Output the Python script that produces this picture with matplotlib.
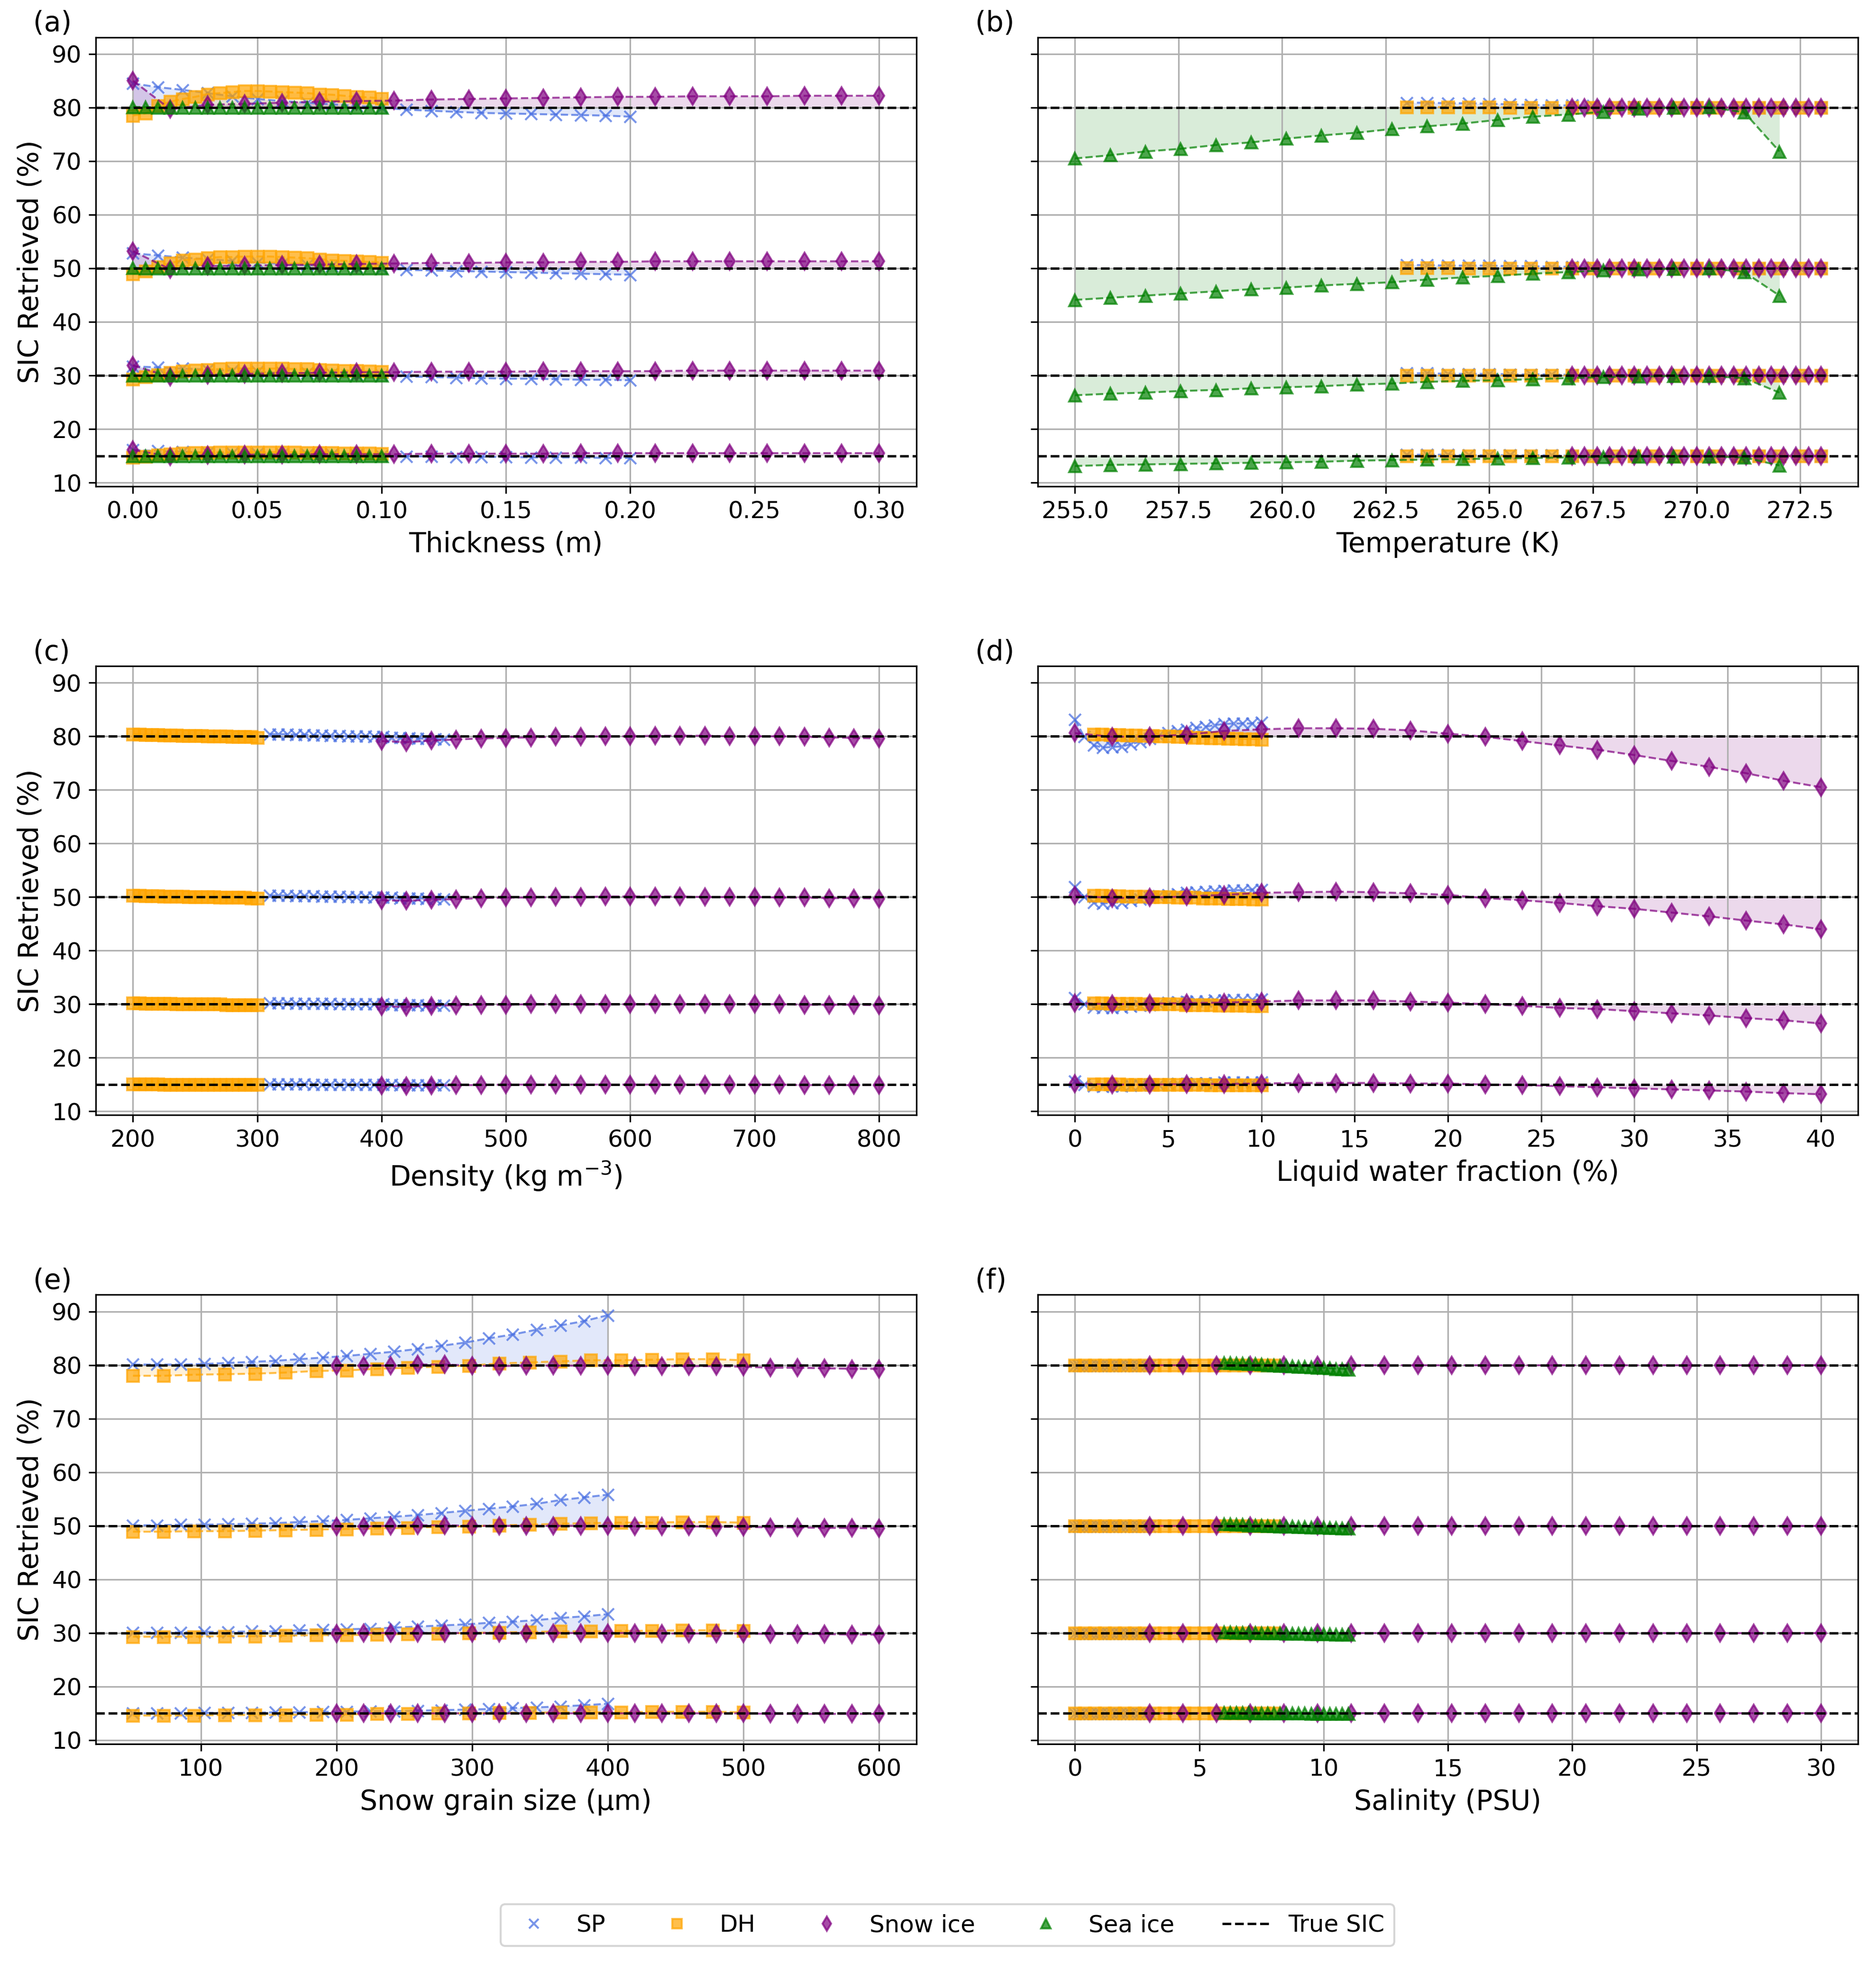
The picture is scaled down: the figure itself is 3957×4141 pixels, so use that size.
import matplotlib
matplotlib.use("Agg")
import matplotlib.pyplot as plt
from matplotlib.lines import Line2D

# true SIC levels, in the order the rows of every series below are stored
TRUE_SIC = [80, 50, 30, 15]

SERIES = ["SP", "DH", "Snow ice", "Sea ice"]
COLORS = {"SP": "royalblue", "DH": "orange", "Snow ice": "purple", "Sea ice": "green"}
MARKERS = {"SP": "x", "DH": "s", "Snow ice": "d", "Sea ice": "^"}

# ---------------- (a) thickness ----------------
A_X_SP = [0.00, 0.01, 0.02, 0.03, 0.04, 0.05, 0.06, 0.07, 0.08, 0.09, 0.10,
          0.11, 0.12, 0.13, 0.14, 0.15, 0.16, 0.17, 0.18, 0.19, 0.20]
A_X_DH = [0.000, 0.005, 0.010, 0.015, 0.020, 0.025, 0.030, 0.035, 0.040, 0.045, 0.050,
          0.055, 0.060, 0.065, 0.070, 0.075, 0.080, 0.085, 0.090, 0.095, 0.100]
A_X_SNOW = [0.000, 0.015, 0.030, 0.045, 0.060, 0.075, 0.090, 0.105, 0.120, 0.135, 0.150,
            0.165, 0.180, 0.195, 0.210, 0.225, 0.240, 0.255, 0.270, 0.285, 0.300]
A_X_SEA = [0.000, 0.005, 0.010, 0.015, 0.020, 0.025, 0.030, 0.035, 0.040, 0.045, 0.050,
           0.055, 0.060, 0.065, 0.070, 0.075, 0.080, 0.085, 0.090, 0.095, 0.100]
A_SP = [
    [84.5, 83.8, 83.3, 82.7, 82.1, 81.6, 81.2, 80.9, 80.6, 80.3, 80.0, 79.6, 79.4, 79.2, 79.0, 78.9, 78.8, 78.7, 78.6, 78.5, 78.3],
    [52.8, 52.4, 52.0, 51.7, 51.4, 51.1, 50.8, 50.6, 50.4, 50.2, 50.0, 49.7, 49.6, 49.5, 49.4, 49.3, 49.2, 49.1, 49.0, 48.9, 48.8],
    [31.7, 31.5, 31.3, 31.1, 30.9, 30.7, 30.5, 30.4, 30.3, 30.1, 30.0, 29.8, 29.7, 29.6, 29.5, 29.4, 29.4, 29.3, 29.2, 29.2, 29.1],
    [16.1, 15.9, 15.8, 15.6, 15.5, 15.4, 15.3, 15.2, 15.2, 15.1, 15.0, 14.9, 14.9, 14.8, 14.8, 14.8, 14.7, 14.7, 14.7, 14.6, 14.6],
]
A_DH = [
    [78.5, 78.9, 80.3, 81.1, 81.6, 82.0, 82.5, 82.7, 82.9, 83.1, 83.1, 83.0, 82.9, 82.8, 82.7, 82.5, 82.4, 82.2, 82.0, 81.9, 81.7],
    [48.9, 49.5, 50.3, 51.0, 51.5, 51.7, 51.9, 52.1, 52.1, 52.2, 52.2, 52.2, 52.1, 52.0, 51.9, 51.7, 51.5, 51.4, 51.3, 51.2, 51.1],
    [29.3, 29.7, 30.1, 30.5, 30.8, 31.0, 31.1, 31.2, 31.3, 31.3, 31.3, 31.3, 31.3, 31.2, 31.2, 31.1, 31.0, 30.9, 30.9, 30.8, 30.7],
    [14.7, 14.9, 15.1, 15.3, 15.5, 15.6, 15.6, 15.7, 15.7, 15.7, 15.7, 15.7, 15.7, 15.7, 15.6, 15.6, 15.6, 15.5, 15.5, 15.5, 15.4],
]
A_SNOW = [
    [85.0, 79.7, 80.5, 80.7, 80.9, 81.1, 81.2, 81.3, 81.5, 81.6, 81.7, 81.8, 81.9, 82.0, 82.0, 82.1, 82.1, 82.1, 82.2, 82.2, 82.2],
    [53.2, 49.8, 50.4, 50.5, 50.6, 50.7, 50.8, 50.9, 51.0, 51.0, 51.1, 51.1, 51.2, 51.2, 51.3, 51.3, 51.3, 51.3, 51.3, 51.3, 51.3],
    [31.9, 29.7, 30.1, 30.3, 30.4, 30.5, 30.6, 30.6, 30.7, 30.7, 30.7, 30.8, 30.8, 30.8, 30.8, 30.9, 30.9, 30.9, 30.9, 30.9, 30.9],
    [16.1, 14.9, 15.1, 15.2, 15.2, 15.3, 15.3, 15.3, 15.4, 15.4, 15.4, 15.4, 15.5, 15.5, 15.5, 15.5, 15.5, 15.5, 15.5, 15.5, 15.5],
]
A_SEA = [
    [80.1, 80.1, 80.0, 80.0, 80.0, 80.0, 80.0, 80.0, 80.0, 80.0, 80.0, 80.0, 80.0, 80.0, 80.0, 80.0, 80.0, 80.0, 80.0, 80.0, 80.0],
    [50.1, 50.0, 50.0, 50.0, 50.0, 50.0, 50.0, 50.0, 50.0, 50.0, 50.0, 50.0, 50.0, 50.0, 50.0, 50.0, 50.0, 50.0, 50.0, 50.0, 50.0],
    [30.0, 30.0, 30.0, 30.0, 30.0, 30.0, 30.0, 30.0, 30.0, 30.0, 30.0, 30.0, 30.0, 30.0, 30.0, 30.0, 30.0, 30.0, 30.0, 30.0, 30.0],
    [15.0, 15.0, 15.0, 15.0, 15.0, 15.0, 15.0, 15.0, 15.0, 15.0, 15.0, 15.0, 15.0, 15.0, 15.0, 15.0, 15.0, 15.0, 15.0, 15.0, 15.0],
]

# ---------------- (b) temperature ----------------
B_X_SP = [263.0, 263.5, 264.0, 264.5, 265.0, 265.5, 266.0, 266.5, 267.0, 267.5, 268.0,
          268.5, 269.0, 269.5, 270.0, 270.5, 271.0, 271.5, 272.0, 272.5, 273.0]
B_X_DH = [263.0, 263.5, 264.0, 264.5, 265.0, 265.5, 266.0, 266.5, 267.0, 267.5, 268.0,
          268.5, 269.0, 269.5, 270.0, 270.5, 271.0, 271.5, 272.0, 272.5, 273.0]
B_X_SNOW = [267.0, 267.3, 267.6, 267.9, 268.2, 268.5, 268.8, 269.1, 269.4, 269.7, 270.0,
            270.3, 270.6, 270.9, 271.2, 271.5, 271.8, 272.1, 272.4, 272.7, 273.0]
B_X_SEA = [255.0, 255.85, 256.7, 257.55, 258.4, 259.25, 260.1, 260.95, 261.8, 262.65, 263.5,
           264.35, 265.2, 266.05, 266.9, 267.75, 268.6, 269.45, 270.3, 271.15, 272.0]
B_SP = [
    [80.9, 80.9, 80.8, 80.8, 80.7, 80.6, 80.5, 80.4, 80.4, 80.3, 80.2, 80.2, 80.1, 80.1, 80.1, 80.0, 80.0, 80.0, 80.0, 80.0, 80.0],
    [50.6, 50.6, 50.5, 50.5, 50.5, 50.4, 50.4, 50.3, 50.3, 50.2, 50.2, 50.1, 50.1, 50.1, 50.0, 50.0, 50.0, 50.0, 50.0, 50.0, 50.0],
    [30.4, 30.4, 30.3, 30.3, 30.3, 30.2, 30.2, 30.2, 30.1, 30.1, 30.1, 30.1, 30.0, 30.0, 30.0, 30.0, 30.0, 30.0, 30.0, 30.0, 30.0],
    [15.2, 15.2, 15.2, 15.1, 15.1, 15.1, 15.1, 15.1, 15.0, 15.0, 15.0, 15.0, 15.0, 15.0, 15.0, 15.0, 15.0, 15.0, 15.0, 15.0, 15.0],
]
B_DH = [
    [80.1, 80.1, 80.1, 80.1, 80.1, 80.0, 80.0, 80.0, 80.0, 80.0, 80.0, 80.0, 80.0, 80.0, 80.0, 80.0, 80.0, 80.0, 80.0, 80.0, 80.0],
    [50.1, 50.1, 50.1, 50.0, 50.0, 50.0, 50.0, 50.0, 50.0, 50.0, 50.0, 50.0, 50.0, 50.0, 50.0, 50.0, 50.0, 50.0, 50.0, 50.0, 50.0],
    [30.0, 30.0, 30.0, 30.0, 30.0, 30.0, 30.0, 30.0, 30.0, 30.0, 30.0, 30.0, 30.0, 30.0, 30.0, 30.0, 30.0, 30.0, 30.0, 30.0, 30.0],
    [15.0, 15.0, 15.0, 15.0, 15.0, 15.0, 15.0, 15.0, 15.0, 15.0, 15.0, 15.0, 15.0, 15.0, 15.0, 15.0, 15.0, 15.0, 15.0, 15.0, 15.0],
]
B_SNOW = [
    [80.0, 80.0, 80.0, 80.0, 80.0, 80.0, 80.0, 80.0, 80.0, 80.0, 80.0, 80.0, 80.0, 80.0, 80.0, 80.0, 80.0, 80.0, 80.0, 80.0, 80.0],
    [50.0, 50.0, 50.0, 50.0, 50.0, 50.0, 50.0, 50.0, 50.0, 50.0, 50.0, 50.0, 50.0, 50.0, 50.0, 50.0, 50.0, 50.0, 50.0, 50.0, 50.0],
    [30.0, 30.0, 30.0, 30.0, 30.0, 30.0, 30.0, 30.0, 30.0, 30.0, 30.0, 30.0, 30.0, 30.0, 30.0, 30.0, 30.0, 30.0, 30.0, 30.0, 30.0],
    [15.0, 15.0, 15.0, 15.0, 15.0, 15.0, 15.0, 15.0, 15.0, 15.0, 15.0, 15.0, 15.0, 15.0, 15.0, 15.0, 15.0, 15.0, 15.0, 15.0, 15.0],
]
B_SEA = [
    [70.5, 71.1, 71.8, 72.3, 73.0, 73.5, 74.2, 74.8, 75.3, 76.0, 76.5, 77.0, 77.7, 78.3, 78.7, 79.2, 79.8, 80.0, 80.1, 79.1, 71.8],
    [44.1, 44.5, 44.9, 45.3, 45.7, 46.1, 46.4, 46.8, 47.1, 47.4, 47.9, 48.3, 48.6, 49.0, 49.3, 49.6, 49.8, 49.9, 50.0, 49.3, 44.9],
    [26.3, 26.6, 26.8, 27.1, 27.3, 27.6, 27.8, 28.0, 28.3, 28.5, 28.8, 29.0, 29.1, 29.3, 29.5, 29.7, 29.8, 29.9, 29.9, 29.5, 26.8],
    [13.1, 13.3, 13.4, 13.5, 13.6, 13.7, 13.8, 13.9, 14.1, 14.2, 14.3, 14.4, 14.5, 14.6, 14.7, 14.8, 14.9, 14.9, 14.9, 14.7, 13.2],
]

# ---------------- (c) density ----------------
C_X_SP = [310, 317, 324, 331, 338, 345, 352, 359, 366, 373, 380,
          387, 394, 401, 408, 415, 422, 429, 436, 443, 450]
C_X_DH = [200, 205, 210, 215, 220, 225, 230, 235, 240, 245, 250,
          255, 260, 265, 270, 275, 280, 285, 290, 295, 300]
C_X_SNOW = [400, 420, 440, 460, 480, 500, 520, 540, 560, 580, 600,
            620, 640, 660, 680, 700, 720, 740, 760, 780, 800]
C_SP = [
    [80.4, 80.4, 80.4, 80.3, 80.3, 80.2, 80.2, 80.1, 80.1, 80.0, 80.0, 80.0, 79.9, 79.9, 79.8, 79.8, 79.7, 79.6, 79.6, 79.5, 79.4],
    [50.3, 50.3, 50.3, 50.2, 50.2, 50.2, 50.1, 50.1, 50.1, 50.0, 50.0, 50.0, 49.9, 49.9, 49.9, 49.8, 49.8, 49.8, 49.7, 49.7, 49.6],
    [30.2, 30.2, 30.2, 30.1, 30.1, 30.1, 30.1, 30.1, 30.0, 30.0, 30.0, 30.0, 30.0, 30.0, 29.9, 29.9, 29.9, 29.9, 29.8, 29.8, 29.8],
    [15.1, 15.1, 15.1, 15.1, 15.1, 15.0, 15.0, 15.0, 15.0, 15.0, 15.0, 15.0, 15.0, 15.0, 15.0, 14.9, 14.9, 14.9, 14.9, 14.9, 14.9],
]
C_DH = [
    [80.4, 80.4, 80.3, 80.3, 80.3, 80.2, 80.2, 80.2, 80.1, 80.1, 80.1, 80.1, 80.0, 80.0, 80.0, 80.0, 79.9, 79.9, 79.9, 79.9, 79.8],
    [50.3, 50.3, 50.2, 50.2, 50.2, 50.1, 50.1, 50.1, 50.1, 50.0, 50.0, 50.0, 50.0, 50.0, 49.9, 49.9, 49.9, 49.9, 49.9, 49.8, 49.8],
    [30.2, 30.2, 30.1, 30.1, 30.1, 30.1, 30.1, 30.0, 30.0, 30.0, 30.0, 30.0, 30.0, 30.0, 30.0, 29.9, 29.9, 29.9, 29.9, 29.9, 29.9],
    [15.1, 15.1, 15.1, 15.1, 15.1, 15.0, 15.0, 15.0, 15.0, 15.0, 15.0, 15.0, 15.0, 15.0, 15.0, 15.0, 15.0, 15.0, 15.0, 15.0, 15.0],
]
C_SNOW = [
    [79.1, 78.9, 79.2, 79.4, 79.6, 79.7, 79.8, 79.9, 79.9, 80.0, 80.0, 80.1, 80.1, 80.1, 80.0, 80.0, 80.0, 79.9, 79.8, 79.7, 79.6],
    [49.4, 49.3, 49.5, 49.6, 49.8, 49.9, 49.9, 50.0, 50.0, 50.1, 50.1, 50.1, 50.1, 50.0, 50.0, 50.0, 49.9, 49.9, 49.8, 49.8, 49.7],
    [29.6, 29.5, 29.7, 29.8, 29.9, 29.9, 30.0, 30.0, 30.0, 30.0, 30.0, 30.0, 30.0, 30.0, 30.0, 30.0, 30.0, 29.9, 29.9, 29.9, 29.8],
    [14.8, 14.7, 14.8, 14.9, 14.9, 15.0, 15.0, 15.0, 15.0, 15.0, 15.0, 15.0, 15.0, 15.0, 15.0, 15.0, 15.0, 14.9, 14.9, 14.9, 14.9],
]

# ---------------- (d) liquid water fraction ----------------
D_X_SP = [0.0, 0.5, 1.0, 1.5, 2.0, 2.5, 3.0, 3.5, 4.0, 4.5, 5.0,
          5.5, 6.0, 6.5, 7.0, 7.5, 8.0, 8.5, 9.0, 9.5, 10.0]
D_X_DH = [1.00, 1.45, 1.90, 2.35, 2.80, 3.25, 3.70, 4.15, 4.60, 5.05, 5.50,
          5.95, 6.40, 6.85, 7.30, 7.75, 8.20, 8.65, 9.10, 9.55, 10.00]
D_X_SNOW = [0, 2, 4, 6, 8, 10, 12, 14, 16, 18, 20,
            22, 24, 26, 28, 30, 32, 34, 36, 38, 40]
D_SP = [
    [83.1, 79.9, 78.3, 77.9, 78.0, 78.1, 78.5, 79.0, 79.6, 80.1, 80.6, 81.0, 81.3, 81.6, 81.8, 82.1, 82.3, 82.4, 82.4, 82.4, 82.6],
    [51.9, 50.0, 49.0, 48.8, 48.9, 49.0, 49.3, 49.6, 49.9, 50.2, 50.4, 50.6, 50.8, 50.9, 51.0, 51.1, 51.2, 51.3, 51.3, 51.4, 51.4],
    [31.2, 30.0, 29.4, 29.3, 29.3, 29.4, 29.6, 29.8, 29.9, 30.1, 30.3, 30.4, 30.5, 30.6, 30.6, 30.7, 30.7, 30.8, 30.8, 30.8, 30.9],
    [15.6, 15.0, 14.7, 14.6, 14.7, 14.7, 14.8, 14.9, 15.0, 15.0, 15.1, 15.2, 15.2, 15.3, 15.3, 15.3, 15.4, 15.4, 15.4, 15.4, 15.4],
]
D_DH = [
    [80.4, 80.4, 80.3, 80.3, 80.2, 80.2, 80.1, 80.1, 80.0, 80.0, 79.9, 79.9, 79.8, 79.8, 79.7, 79.7, 79.6, 79.6, 79.5, 79.5, 79.4],
    [50.3, 50.3, 50.2, 50.2, 50.1, 50.1, 50.1, 50.0, 50.0, 50.0, 49.9, 49.9, 49.9, 49.8, 49.8, 49.8, 49.7, 49.7, 49.7, 49.6, 49.6],
    [30.2, 30.2, 30.1, 30.1, 30.1, 30.1, 30.0, 30.0, 30.0, 30.0, 30.0, 29.9, 29.9, 29.9, 29.9, 29.8, 29.8, 29.8, 29.8, 29.7, 29.7],
    [15.1, 15.1, 15.1, 15.1, 15.0, 15.0, 15.0, 15.0, 15.0, 15.0, 15.0, 15.0, 15.0, 15.0, 14.9, 14.9, 14.9, 14.9, 14.9, 14.9, 14.9],
]
D_SNOW = [
    [80.6, 79.9, 80.0, 80.3, 81.0, 81.3, 81.5, 81.5, 81.4, 81.1, 80.5, 79.9, 79.1, 78.3, 77.5, 76.5, 75.4, 74.3, 73.1, 71.7, 70.5],
    [50.3, 49.8, 49.9, 50.1, 50.4, 50.8, 50.9, 51.0, 50.9, 50.7, 50.4, 49.8, 49.4, 48.9, 48.3, 47.8, 47.1, 46.4, 45.6, 44.9, 44.0],
    [30.2, 30.0, 30.1, 30.2, 30.3, 30.5, 30.7, 30.7, 30.7, 30.5, 30.3, 30.0, 29.7, 29.3, 29.1, 28.7, 28.3, 27.9, 27.4, 27.0, 26.4],
    [15.2, 15.0, 15.0, 15.1, 15.1, 15.2, 15.3, 15.3, 15.3, 15.2, 15.2, 15.0, 14.9, 14.7, 14.5, 14.3, 14.1, 13.9, 13.7, 13.4, 13.2],
]

# ---------------- (e) snow grain size ----------------
E_X_SP = [50.0, 67.5, 85.0, 102.5, 120.0, 137.5, 155.0, 172.5, 190.0, 207.5, 225.0,
          242.5, 260.0, 277.5, 295.0, 312.5, 330.0, 347.5, 365.0, 382.5, 400.0]
E_X_DH = [50.0, 72.5, 95.0, 117.5, 140.0, 162.5, 185.0, 207.5, 230.0, 252.5, 275.0,
          297.5, 320.0, 342.5, 365.0, 387.5, 410.0, 432.5, 455.0, 477.5, 500.0]
E_X_SNOW = [200, 220, 240, 260, 280, 300, 320, 340, 360, 380, 400,
            420, 440, 460, 480, 500, 520, 540, 560, 580, 600]
E_SP = [
    [80.1, 80.1, 80.1, 80.2, 80.4, 80.6, 80.8, 81.1, 81.4, 81.7, 82.1, 82.5, 83.0, 83.6, 84.2, 85.0, 85.7, 86.6, 87.4, 88.2, 89.3],
    [50.1, 50.1, 50.2, 50.2, 50.3, 50.4, 50.5, 50.7, 50.9, 51.1, 51.4, 51.7, 52.0, 52.4, 52.8, 53.2, 53.6, 54.1, 54.8, 55.3, 55.8],
    [30.1, 30.1, 30.1, 30.2, 30.2, 30.3, 30.3, 30.5, 30.6, 30.7, 30.8, 31.0, 31.2, 31.4, 31.6, 31.9, 32.1, 32.4, 32.8, 33.1, 33.5],
    [15.0, 15.0, 15.0, 15.1, 15.1, 15.1, 15.2, 15.2, 15.3, 15.3, 15.4, 15.4, 15.5, 15.6, 15.7, 15.8, 16.0, 16.1, 16.3, 16.5, 16.8],
]
E_DH = [
    [78.0, 78.0, 78.2, 78.3, 78.4, 78.6, 78.9, 79.0, 79.3, 79.5, 79.7, 79.9, 80.3, 80.5, 80.7, 80.9, 80.9, 81.0, 81.1, 81.1, 80.9],
    [48.9, 48.9, 49.0, 49.0, 49.1, 49.2, 49.3, 49.4, 49.5, 49.6, 49.8, 49.9, 50.1, 50.2, 50.4, 50.5, 50.6, 50.6, 50.7, 50.7, 50.6],
    [29.3, 29.3, 29.3, 29.4, 29.4, 29.5, 29.6, 29.6, 29.7, 29.8, 29.9, 30.0, 30.1, 30.2, 30.3, 30.3, 30.4, 30.4, 30.5, 30.5, 30.4],
    [14.6, 14.6, 14.6, 14.7, 14.7, 14.7, 14.8, 14.8, 14.9, 14.9, 15.0, 15.0, 15.1, 15.1, 15.2, 15.2, 15.2, 15.3, 15.3, 15.3, 15.2],
]
E_SNOW = [
    [79.9, 79.9, 79.9, 80.1, 80.1, 79.9, 79.8, 79.9, 79.9, 79.9, 79.9, 79.8, 79.8, 79.8, 79.8, 79.7, 79.5, 79.5, 79.4, 79.3, 79.3],
    [49.9, 49.9, 50.0, 50.1, 50.1, 50.0, 50.0, 50.0, 50.0, 50.0, 50.0, 49.9, 49.9, 49.9, 49.8, 49.8, 49.7, 49.7, 49.6, 49.6, 49.5],
    [29.9, 30.0, 30.0, 30.0, 30.0, 30.0, 30.0, 30.0, 30.0, 30.0, 30.0, 30.0, 29.9, 29.9, 29.9, 29.9, 29.8, 29.8, 29.8, 29.7, 29.7],
    [15.0, 15.0, 15.0, 15.0, 15.0, 15.0, 15.0, 15.0, 15.0, 15.0, 15.0, 15.0, 15.0, 15.0, 15.0, 15.0, 14.9, 14.9, 14.9, 14.9, 14.9],
]

# ---------------- (f) salinity ----------------
F_X_SP = [0.00, 0.15, 0.30, 0.45, 0.60, 0.75, 0.90, 1.05, 1.20, 1.35, 1.50,
          1.65, 1.80, 1.95, 2.10, 2.25, 2.40, 2.55, 2.70, 2.85, 3.00]
F_X_DH = [0.0, 0.4, 0.8, 1.2, 1.6, 2.0, 2.4, 2.8, 3.2, 3.6, 4.0,
          4.4, 4.8, 5.2, 5.6, 6.0, 6.4, 6.8, 7.2, 7.6, 8.0]
F_X_SNOW = [3.00, 4.35, 5.70, 7.05, 8.40, 9.75, 11.10, 12.45, 13.80, 15.15, 16.50,
            17.85, 19.20, 20.55, 21.90, 23.25, 24.60, 25.95, 27.30, 28.65, 30.00]
F_X_SEA = [6.00, 6.25, 6.50, 6.75, 7.00, 7.25, 7.50, 7.75, 8.00, 8.25, 8.50,
           8.75, 9.00, 9.25, 9.50, 9.75, 10.00, 10.25, 10.50, 10.75, 11.00]
F_SP = [
    [79.9, 79.9, 79.9, 79.9, 79.9, 79.9, 79.9, 79.9, 79.9, 79.9, 79.9, 79.9, 79.9, 79.9, 79.9, 79.9, 79.9, 79.9, 79.9, 79.9, 79.9],
    [49.9, 49.9, 49.9, 49.9, 49.9, 49.9, 49.9, 49.9, 49.9, 49.9, 49.9, 49.9, 49.9, 49.9, 49.9, 49.9, 49.9, 49.9, 49.9, 49.9, 49.9],
    [29.9, 29.9, 29.9, 29.9, 29.9, 29.9, 29.9, 29.9, 29.9, 29.9, 29.9, 29.9, 29.9, 29.9, 29.9, 29.9, 29.9, 29.9, 29.9, 29.9, 29.9],
    [14.9, 14.9, 14.9, 14.9, 14.9, 14.9, 14.9, 14.9, 14.9, 14.9, 14.9, 14.9, 14.9, 14.9, 14.9, 14.9, 14.9, 14.9, 14.9, 14.9, 14.9],
]
F_DH = [
    [80.0, 80.0, 80.0, 80.0, 80.0, 80.0, 80.0, 80.0, 80.0, 80.0, 80.0, 80.0, 80.0, 80.0, 80.0, 80.0, 80.0, 80.0, 80.0, 80.0, 80.0],
    [50.0, 50.0, 50.0, 50.0, 50.0, 50.0, 50.0, 50.0, 50.0, 50.0, 50.0, 50.0, 50.0, 50.0, 50.0, 50.0, 50.0, 50.0, 50.0, 50.0, 50.0],
    [30.0, 30.0, 30.0, 30.0, 30.0, 30.0, 30.0, 30.0, 30.0, 30.0, 30.0, 30.0, 30.0, 30.0, 30.0, 30.0, 30.0, 30.0, 30.0, 30.0, 30.0],
    [15.0, 15.0, 15.0, 15.0, 15.0, 15.0, 15.0, 15.0, 15.0, 15.0, 15.0, 15.0, 15.0, 15.0, 15.0, 15.0, 15.0, 15.0, 15.0, 15.0, 15.0],
]
F_SNOW = [
    [80.0, 80.0, 80.0, 80.0, 80.0, 80.0, 80.0, 80.0, 80.0, 80.0, 80.0, 80.0, 80.0, 80.0, 80.0, 80.0, 80.0, 80.0, 80.0, 80.0, 80.0],
    [50.0, 50.0, 50.0, 50.0, 50.0, 50.0, 50.0, 50.0, 50.0, 50.0, 50.0, 50.0, 50.0, 50.0, 50.0, 50.0, 50.0, 50.0, 50.0, 50.0, 50.0],
    [30.0, 30.0, 30.0, 30.0, 30.0, 30.0, 30.0, 30.0, 30.0, 30.0, 30.0, 30.0, 30.0, 30.0, 30.0, 30.0, 30.0, 30.0, 30.0, 30.0, 30.0],
    [15.0, 15.0, 15.0, 15.0, 15.0, 15.0, 15.0, 15.0, 15.0, 15.0, 15.0, 15.0, 15.0, 15.0, 15.0, 15.0, 15.0, 15.0, 15.0, 15.0, 15.0],
]
F_SEA = [
    [80.4, 80.4, 80.3, 80.3, 80.2, 80.2, 80.1, 80.0, 80.0, 79.9, 79.9, 79.8, 79.7, 79.7, 79.6, 79.5, 79.5, 79.4, 79.3, 79.3, 79.2],
    [50.3, 50.3, 50.2, 50.2, 50.1, 50.1, 50.1, 50.0, 50.0, 49.9, 49.9, 49.9, 49.8, 49.8, 49.7, 49.7, 49.7, 49.6, 49.6, 49.5, 49.5],
    [30.2, 30.2, 30.1, 30.1, 30.1, 30.1, 30.0, 30.0, 30.0, 30.0, 29.9, 29.9, 29.9, 29.9, 29.8, 29.8, 29.8, 29.8, 29.7, 29.7, 29.7],
    [15.1, 15.1, 15.1, 15.1, 15.1, 15.0, 15.0, 15.0, 15.0, 15.0, 15.0, 15.0, 15.0, 15.0, 14.9, 14.9, 14.9, 14.9, 14.9, 14.9, 14.9],
]

PANEL_LABELS = ["(a)", "(b)", "(c)", "(d)", "(e)", "(f)"]
X_LABELS = ["Thickness (m)", "Temperature (K)", "Density (kg m$^{-3}$)",
            "Liquid water fraction (%)", "Snow grain size (μm)", "Salinity (PSU)"]

panels = [
    [("SP", A_X_SP, A_SP), ("DH", A_X_DH, A_DH), ("Snow ice", A_X_SNOW, A_SNOW), ("Sea ice", A_X_SEA, A_SEA)],
    [("SP", B_X_SP, B_SP), ("DH", B_X_DH, B_DH), ("Snow ice", B_X_SNOW, B_SNOW), ("Sea ice", B_X_SEA, B_SEA)],
    [("SP", C_X_SP, C_SP), ("DH", C_X_DH, C_DH), ("Snow ice", C_X_SNOW, C_SNOW)],
    [("SP", D_X_SP, D_SP), ("DH", D_X_DH, D_DH), ("Snow ice", D_X_SNOW, D_SNOW)],
    [("SP", E_X_SP, E_SP), ("DH", E_X_DH, E_DH), ("Snow ice", E_X_SNOW, E_SNOW)],
    [("SP", F_X_SP, F_SP), ("DH", F_X_DH, F_DH), ("Snow ice", F_X_SNOW, F_SNOW), ("Sea ice", F_X_SEA, F_SEA)],
]

fig, axes = plt.subplots(3, 2, figsize=(3957 / 300, 4141 / 300), dpi=300, sharey=True)
fig.subplots_adjust(left=0.051, right=0.9905, top=0.981, bottom=0.1116, wspace=0.148, hspace=0.40)

for ax, series_list, plabel, xlabel in zip(axes.flat, panels, PANEL_LABELS, X_LABELS):
    for name, x, levels in series_list:
        for y, truth in zip(levels, TRUE_SIC):
            ax.plot(x, y, linestyle="--", marker=MARKERS[name], color=COLORS[name],
                    alpha=0.7, markersize=6, linewidth=1.0)
            ax.fill_between(x, y, truth, color=COLORS[name], alpha=0.15, linewidth=0)
    for truth in TRUE_SIC:
        ax.axhline(truth, color="black", linestyle="--", linewidth=1.2, zorder=5)
    ax.grid(True)
    ax.set_xlabel(xlabel, fontsize=14)
    ax.tick_params(labelsize=12)
    ax.text(-0.076, 1.031, plabel, transform=ax.transAxes, fontsize=14, ha="left", va="center")

for ax in axes[:, 0]:
    ax.set_ylabel("SIC Retrieved (%)", fontsize=14)
axes[0, 0].set_yticks([10, 20, 30, 40, 50, 60, 70, 80, 90])

handles = [Line2D([], [], marker=MARKERS[n], color=COLORS[n], linestyle="None",
                  markersize=5, alpha=0.7, label=n) for n in SERIES]
handles.append(Line2D([], [], color="black", linestyle="--", linewidth=1.2, label="True SIC"))
fig.legend(handles=handles, loc="center", bbox_to_anchor=(0.505, 0.0193), ncol=5, fontsize=12)

fig.savefig("out.png", dpi=300)
